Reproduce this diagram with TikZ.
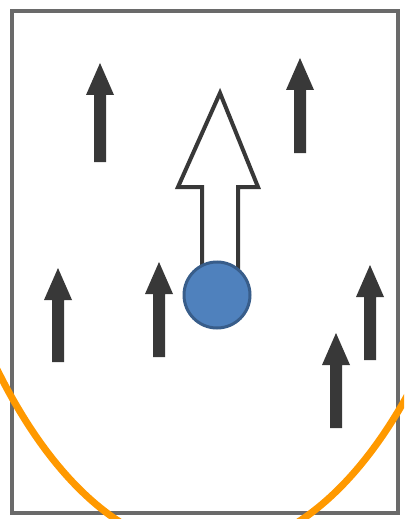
\documentclass[tikz,border=0pt]{standalone}
\usetikzlibrary{calc}
\definecolor{framegray}{HTML}{6A6A6A}
\definecolor{arrowdark}{HTML}{383838}
\definecolor{ballfill}{HTML}{4F81BD}
\definecolor{balldraw}{HTML}{385D8A}
\definecolor{curveorange}{HTML}{FF9900}
\tikzset{
  frame/.style={draw=framegray, line width=2pt},
  smallarrow/.style={fill=arrowdark, draw=none},
  bigarrow/.style={draw=arrowdark, fill=white, line width=2pt, line join=miter},
  ball/.style={circle, fill=ballfill, draw=balldraw, line width=1.5pt, minimum size=33pt, inner sep=0pt},
  orbit/.style={draw=curveorange, line width=3.5pt}
}
% small arrow: #1 = x, #2 = tip y, #3 = bottom y
\newcommand{\smallarr}[3]{%
  \fill[smallarrow] (#1-6,#3) -- (#1-6,#2+32) -- (#1-14,#2+32) -- (#1,#2) -- (#1+14,#2+32) -- (#1+6,#2+32) -- (#1+6,#3) -- cycle;}
\begin{document}
\begin{tikzpicture}[x=0.5pt,y=-0.5pt]
\useasboundingbox (0,0) rectangle (404,519);
\fill[white] (0,0) rectangle (404,519);
\draw[frame] (11.5,11.5) rectangle (398,513);
% small arrows
\smallarr{100}{63}{162}
\smallarr{300}{58}{153}
\smallarr{58}{268}{362}
\smallarr{159}{262}{357}
\smallarr{370}{265}{360}
\smallarr{336}{333}{428}
% big hollow arrow
\draw[bigarrow] (202,290) -- (202,187) -- (178,187) -- (220,93) -- (258,187) -- (238,187) -- (238,290) -- cycle;
% ball
\node[ball] (ball) at (217,295) {};
% orange curve
\begin{scope}
\clip (0,0) rectangle (404,519);
\draw[orbit] (209,-113) ellipse [x radius=154.5pt, y radius=331.5pt];
\end{scope}
\end{tikzpicture}
\end{document}
